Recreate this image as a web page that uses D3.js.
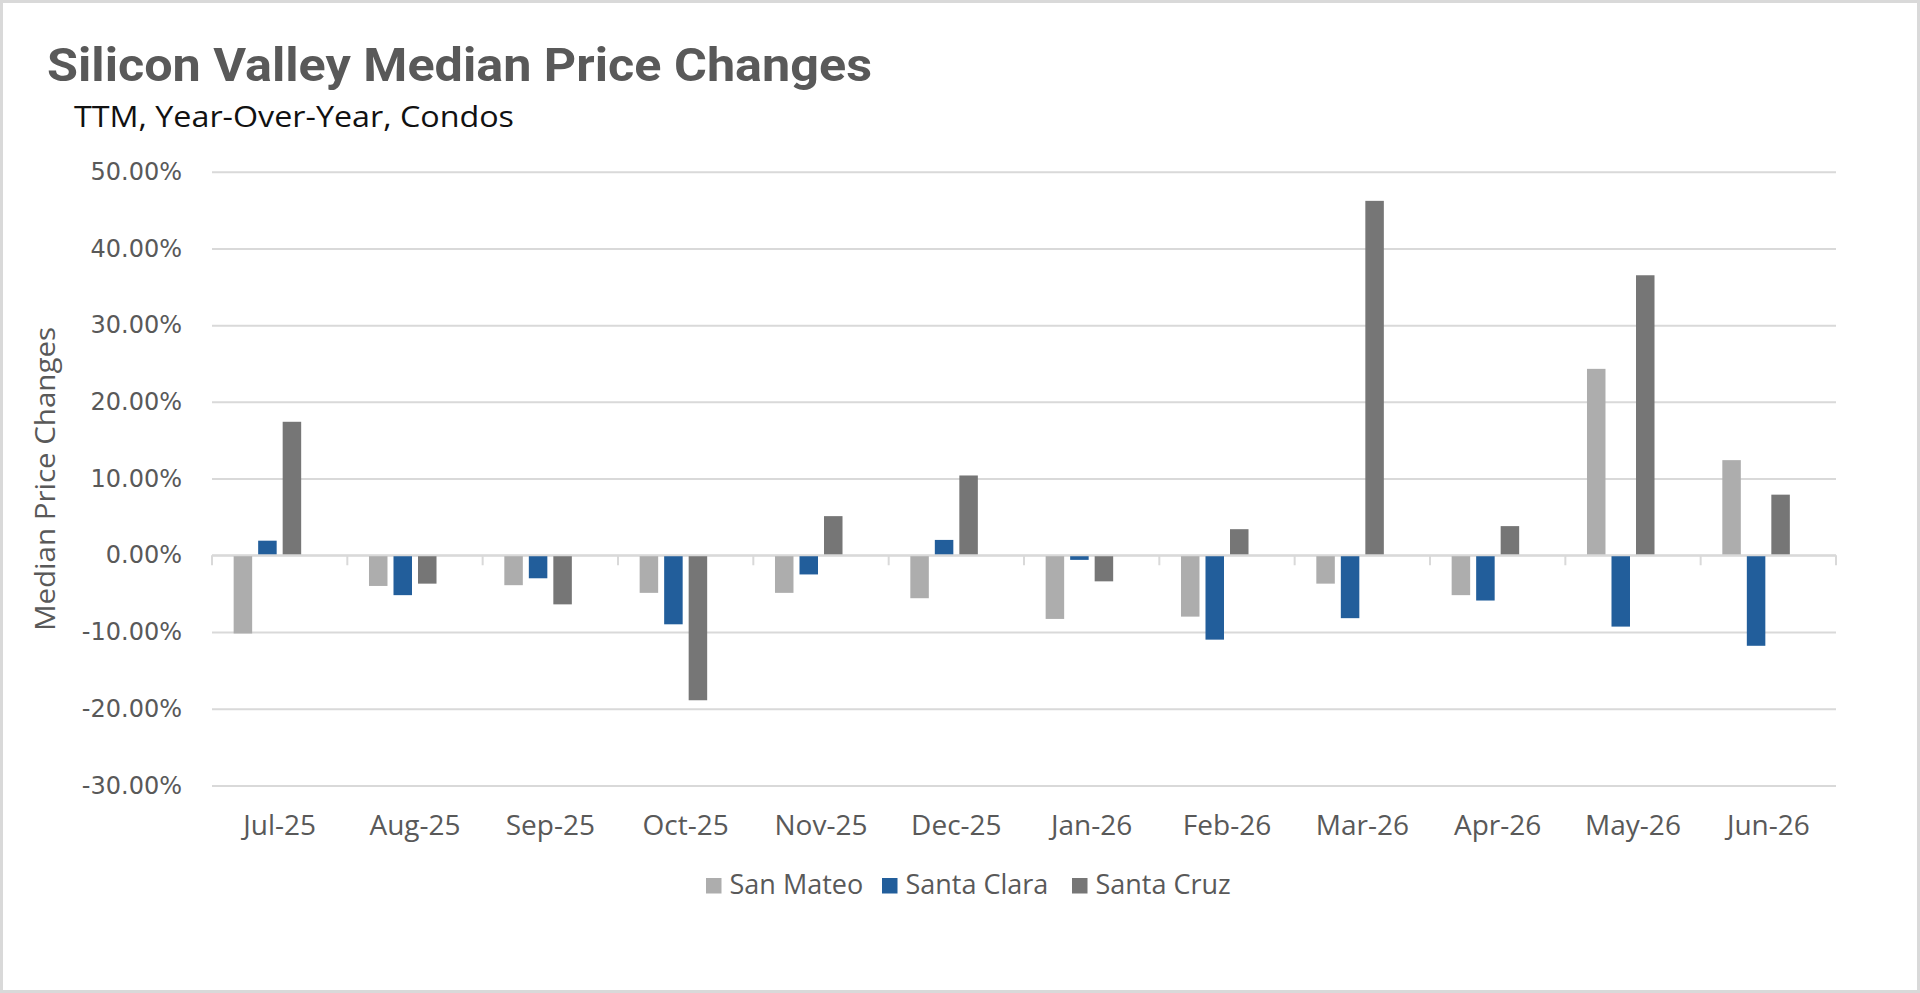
<!DOCTYPE html>
<html>
<head>
<meta charset="utf-8">
<script src="https://cdn.jsdelivr.net/npm/d3@7"></script>
<style>
  html, body { margin: 0; padding: 0; background: #fff; }
  svg { display: block; }
</style>
</head>
<body>
<div id="chart"></div>
<script>
// data (percent change)
var months = ["Jul-25", "Aug-25", "Sep-25", "Oct-25", "Nov-25", "Dec-25",
              "Jan-26", "Feb-26", "Mar-26", "Apr-26", "May-26", "Jun-26"];
var seriesNames = ["San Mateo", "Santa Clara", "Santa Cruz"];
var sanMateo   = [-10.2, -4.0, -3.9, -4.9, -4.9, -5.6, -8.3, -8.0, -3.7, -5.2, 24.3, 12.4];
var santaClara = [  1.9, -5.2, -3.0, -9.0, -2.5,  2.0, -0.6, -11.0, -8.2, -5.9, -9.3, -11.8];
var santaCruz  = [ 17.4, -3.7, -6.4, -18.9, 5.1, 10.4, -3.4,  3.4, 46.2,  3.8, 36.5,  7.9];
var yTicks = [-30, -20, -10, 0, 10, 20, 30, 40, 50];

var colors = ["#adadad", "#225e9b", "#767676"];
var seriesValues = [sanMateo, santaClara, santaCruz];

var W = 1920, H = 993;
var margin = {top: 171.7, right: 84, bottom: 207.6, left: 212};
var width = W - margin.left - margin.right;
var height = H - margin.top - margin.bottom;

var root = d3.select("#chart").append("svg")
    .attr("width", W)
    .attr("height", H);

// outer frame
root.append("rect")
    .attr("x", 1.5).attr("y", 1.5)
    .attr("width", W - 3).attr("height", H - 3)
    .attr("fill", "#fff")
    .attr("stroke", "#d9d9d9")
    .attr("stroke-width", 3);

// titles
root.append("text")
    .attr("x", 47).attr("y", 81)
    .attr("font-family", "Roboto, 'Open Sans', sans-serif")
    .attr("font-weight", "bold")
    .attr("font-size", 47)
    .attr("fill", "#595959")
    .attr("textLength", 825)
    .attr("lengthAdjust", "spacingAndGlyphs")
    .text("Silicon Valley Median Price Changes");

root.append("text")
    .attr("x", 74).attr("y", 127)
    .attr("font-family", "'Open Sans', Roboto, sans-serif")
    .attr("font-size", 30)
    .attr("fill", "#111")
    .attr("textLength", 440)
    .attr("lengthAdjust", "spacingAndGlyphs")
    .text("TTM, Year-Over-Year, Condos");

var svg = root.append("g")
    .attr("transform", "translate(" + margin.left + "," + margin.top + ")");

var y = d3.scaleLinear()
    .domain([-30, 50])
    .range([height, 0]);

var x0 = d3.scaleBand()
    .domain(months)
    .range([0, width])
    .paddingInner(0.32)
    .paddingOuter(0.16);

// four slots per category, the last one is empty in the original
var x1 = d3.scaleBand()
    .domain([0, 1, 2, 3])
    .range([0, x0.bandwidth()])
    .paddingInner(0.245)
    .paddingOuter(0);

// gridlines + y labels
var yAxis = svg.append("g")
    .call(d3.axisLeft(y)
        .tickValues(yTicks)
        .tickSize(-width)
        .tickPadding(30)
        .tickFormat(function(d) { return d.toFixed(2) + "%"; }));
yAxis.select(".domain").remove();
yAxis.selectAll(".tick line")
    .attr("stroke", "#d9d9d9")
    .attr("stroke-width", 2);
yAxis.selectAll(".tick text")
    .attr("font-family", "'DejaVu Sans', Verdana, sans-serif")
    .attr("font-size", 24)
    .attr("fill", "#595959");

// bars
seriesValues.forEach(function(vals, si) {
    svg.append("g")
        .selectAll("rect")
        .data(vals)
        .enter().append("rect")
        .attr("x", function(d, i) { return x0(months[i]) + x1(si); })
        .attr("width", x1.bandwidth())
        .attr("y", function(d) { return d >= 0 ? y(d) : y(0); })
        .attr("height", function(d) { return Math.abs(y(d) - y(0)); })
        .attr("fill", colors[si]);
});

// zero axis line with category boundary ticks
var half = (x0.step() - x0.bandwidth()) / 2;
var edges = months.map(function(m) { return x0(m) - half; });
edges.push(width);
var zero = svg.append("g");
zero.append("line")
    .attr("x1", 0).attr("x2", width)
    .attr("y1", y(0)).attr("y2", y(0))
    .attr("stroke", "#d9d9d9")
    .attr("stroke-width", 2);
zero.selectAll("line.tk")
    .data(edges)
    .enter().append("line")
    .attr("class", "tk")
    .attr("x1", function(d) { return d; })
    .attr("x2", function(d) { return d; })
    .attr("y1", y(0)).attr("y2", y(0) + 10)
    .attr("stroke", "#d9d9d9")
    .attr("stroke-width", 2);

// category labels at the bottom
var xAxis = svg.append("g")
    .attr("transform", "translate(0," + height + ")")
    .call(d3.axisBottom(x0).tickSize(0).tickPadding(30));
xAxis.select(".domain").remove();
xAxis.selectAll(".tick text")
    .attr("font-family", "'Open Sans', Roboto, sans-serif")
    .attr("font-size", 28)
    .attr("fill", "#595959");

// y axis title
root.append("text")
    .attr("transform", "translate(55,479) rotate(-90)")
    .attr("text-anchor", "middle")
    .attr("font-family", "'Open Sans', Roboto, sans-serif")
    .attr("font-size", 27)
    .attr("fill", "#595959")
    .attr("textLength", 304)
    .attr("lengthAdjust", "spacingAndGlyphs")
    .text("Median Price Changes");

// legend
var legendX = [706, 882, 1072];
var legend = root.append("g").selectAll("g")
    .data(seriesNames)
    .enter().append("g")
    .attr("transform", function(d, i) { return "translate(" + legendX[i] + ",878)"; });
legend.append("rect")
    .attr("width", 15.5).attr("height", 15.5)
    .attr("fill", function(d, i) { return colors[i]; });
legend.append("text")
    .attr("x", 23.5).attr("y", 16)
    .attr("font-family", "'Open Sans', Roboto, sans-serif")
    .attr("font-size", 27)
    .attr("fill", "#595959")
    .text(function(d) { return d; });
</script>
</body>
</html>
